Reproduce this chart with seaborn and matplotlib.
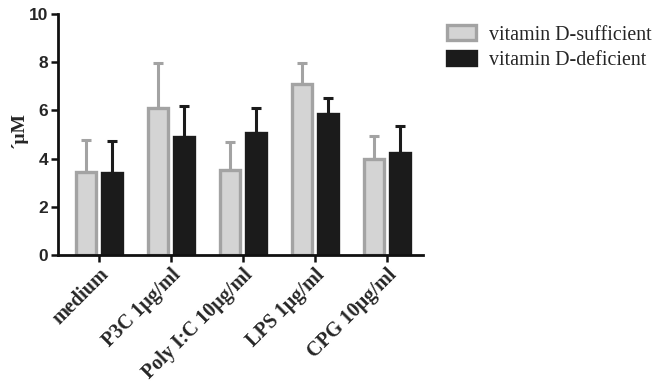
import matplotlib
matplotlib.use("Agg")
import matplotlib.pyplot as plt
import seaborn as sns
import pandas as pd
import numpy as np
from matplotlib.patches import Patch

categories = ["medium", "P3C 1μg/ml", "Poly I:C 10μg/ml", "LPS 1μg/ml", "CPG 10μg/ml"]
groups = ["vitamin D-sufficient", "vitamin D-deficient"]
sufficient_mean = [3.44, 6.09, 3.53, 7.10, 4.00]
sufficient_top = [4.75, 7.97, 4.70, 7.98, 4.93]
deficient_mean = [3.42, 4.91, 5.07, 5.84, 4.22]
deficient_top = [4.72, 6.18, 6.09, 6.53, 5.35]
yticks = [0, 2, 4, 6, 8, 10]

fills = {"vitamin D-sufficient": "#d4d4d4", "vitamin D-deficient": "#1b1b1b"}
edges = {"vitamin D-sufficient": "#a3a3a3", "vitamin D-deficient": "#1b1b1b"}

df = pd.DataFrame({
    "cat": categories * 2,
    "group": [groups[0]] * 5 + [groups[1]] * 5,
    "val": sufficient_mean + deficient_mean,
    "top": sufficient_top + deficient_top,
})

sns.set_style("ticks")
plt.rcParams["font.family"] = ["DejaVu Sans"]
serif = ["Liberation Serif", "DejaVu Serif"]

fig = plt.figure(figsize=(6.54, 3.88), dpi=100)
ax = fig.add_axes([0.0887, 0.343, 0.558, 0.621])

sns.barplot(data=df, x="cat", y="val", hue="group", order=categories,
            hue_order=groups, palette=fills, width=0.72, gap=0.22,
            errorbar=None, legend=False, ax=ax, zorder=2)

bars = [p for p in ax.patches]
for i, g in enumerate(groups):
    sub = df[df.group == g]
    for j, (v, t) in enumerate(zip(sub.val, sub.top)):
        p = bars[i * len(categories) + j]
        p.set_edgecolor(edges[g])
        p.set_linewidth(2.4)
        x = p.get_x() + p.get_width() / 2
        ax.errorbar([x], [v], yerr=[[0], [t - v]], fmt="none",
                    ecolor=edges[g], elinewidth=2.2, capsize=3.5,
                    capthick=2.2, zorder=1)

ax.set_xlim(-0.57, 4.5)
ax.set_ylim(0, 10)
ax.set_yticks(yticks)
ax.set_xlabel("")
ax.set_ylabel("´μM", fontsize=14, fontweight="bold", family=serif)
ax.yaxis.set_label_coords(-0.082, 0.52)
sns.despine(ax=ax)
for s in ["left", "bottom"]:
    ax.spines[s].set_linewidth(2.0)
    ax.spines[s].set_color("#111111")
ax.tick_params(axis="both", width=1.8, length=5, color="#111111", pad=2)
for lab in ax.get_yticklabels():
    lab.set_fontfamily(["Liberation Sans", "DejaVu Sans"])
    lab.set_fontweight("bold")
    lab.set_fontsize(12.5)
ax.set_xticks(range(len(categories)))
ax.set_xticklabels(categories, rotation=45, ha="right", rotation_mode="anchor",
                   fontsize=14.5, fontweight="bold", family=serif)

handles = [Patch(facecolor=fills[g], edgecolor=edges[g], linewidth=2.4, label=g)
           for g in groups]
fig.legend(handles=handles, loc="upper left", bbox_to_anchor=(0.684, 0.935),
           frameon=False, prop={"family": serif, "size": 14.4},
           handlelength=1.45, handleheight=0.75, labelspacing=0.3, handletextpad=0.65,
           borderaxespad=0, borderpad=0)

fig.savefig("out.png", dpi=100)
